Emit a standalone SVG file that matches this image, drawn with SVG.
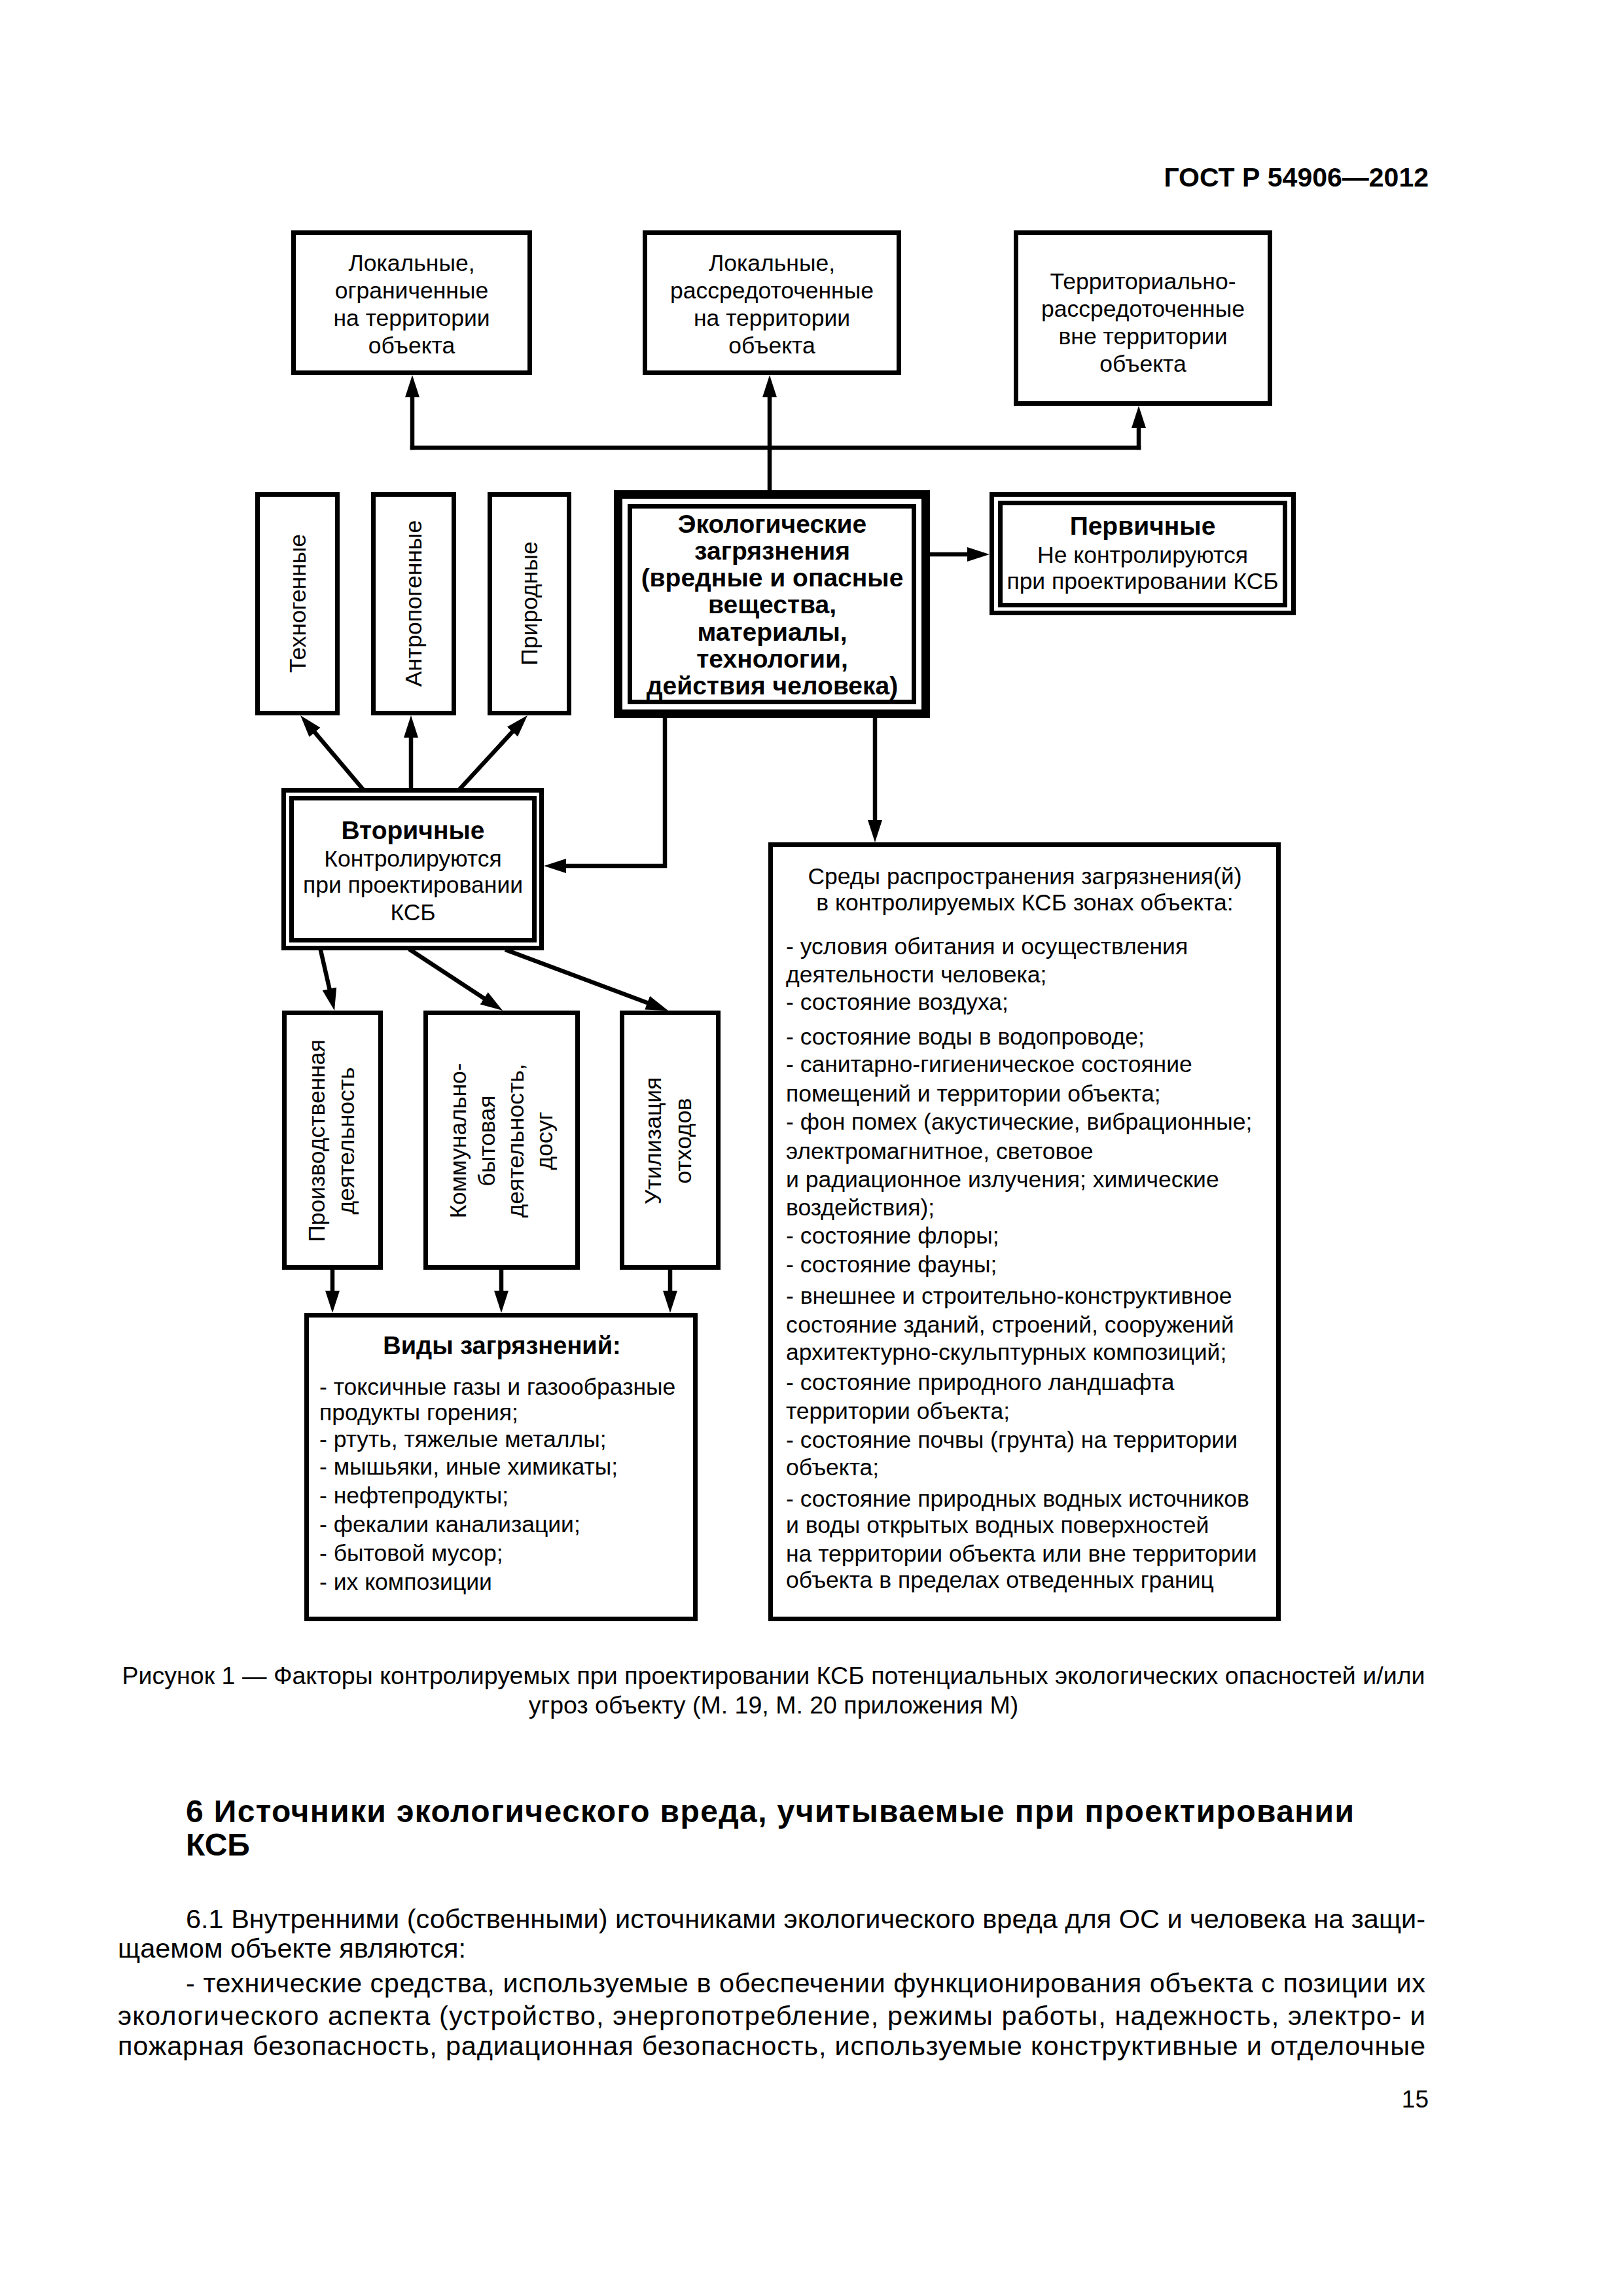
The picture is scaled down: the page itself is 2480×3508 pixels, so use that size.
<svg xmlns="http://www.w3.org/2000/svg" width="2480" height="3508" viewBox="0 0 2480 3508">
<defs>
<style>
.bx{fill:#fff;stroke:#000;stroke-width:7}
.bxt{fill:#fff;stroke:#000;stroke-width:13}
.t{font-family:"Liberation Sans",Arial,sans-serif;font-size:35.5px;fill:#000}
.c{text-anchor:middle}
.b{font-weight:bold}
.ttl{font-size:39px}
.ln{fill:none;stroke:#000;stroke-width:6.5;stroke-linecap:square}
.body{font-family:"Liberation Sans",Arial,sans-serif;font-size:41.5px;fill:#000}
.cap{font-family:"Liberation Sans",Arial,sans-serif;font-size:37.5px;fill:#000}
</style>
<marker id="ah" markerUnits="userSpaceOnUse" markerWidth="36" markerHeight="24" viewBox="0 -12 36 24" refX="2" refY="0" orient="auto">
<path d="M0,-11 L34,0 L0,11 z" fill="#000"/>
</marker>
</defs>
<rect width="2480" height="3508" fill="#fff"/>

<text class="t b" x="2183" y="285" text-anchor="end" style="font-size:41px">ГОСТ Р 54906—2012</text>

<g id="connectors">
<path class="ln" d="M1176,749 V605" marker-end="url(#ah)"/>
<path class="ln" d="M630,684 H1740"/>
<path class="ln" d="M630,684 V605" marker-end="url(#ah)"/>
<path class="ln" d="M1740,684 V652" marker-end="url(#ah)"/>
<path class="ln" d="M1421,847 H1480" marker-end="url(#ah)"/>
<path class="ln" d="M1016,1097 V1323 H863" marker-end="url(#ah)"/>
<path class="ln" d="M1337,1097 V1255" marker-end="url(#ah)"/>
<path class="ln" d="M553,1204 L479.7,1117.4" marker-end="url(#ah)"/>
<path class="ln" d="M628,1204 V1125" marker-end="url(#ah)"/>
<path class="ln" d="M704,1204 L784.3,1116.6" marker-end="url(#ah)"/>
<path class="ln" d="M490,1452 L503.9,1512.8" marker-end="url(#ah)"/>
<path class="ln" d="M628,1452 L741.3,1526.4" marker-end="url(#ah)"/>
<path class="ln" d="M775,1452 L991,1532.8" marker-end="url(#ah)"/>
<path class="ln" d="M508,1940 V1974" marker-end="url(#ah)"/>
<path class="ln" d="M766,1940 V1974" marker-end="url(#ah)"/>
<path class="ln" d="M1024,1940 V1974" marker-end="url(#ah)"/>
</g>

<g id="local-limited">
<rect class="bx" x="448.5" y="355.5" width="361" height="214"/>
<text class="t c" x="629" y="414">Локальные,</text>
<text class="t c" x="629" y="456">ограниченные</text>
<text class="t c" x="629" y="498">на территории</text>
<text class="t c" x="629" y="540">объекта</text>
</g>

<g id="local-dispersed">
<rect class="bx" x="985.5" y="355.5" width="388" height="214"/>
<text class="t c" x="1179.5" y="414">Локальные,</text>
<text class="t c" x="1179.5" y="456">рассредоточенные</text>
<text class="t c" x="1179.5" y="498">на территории</text>
<text class="t c" x="1179.5" y="540">объекта</text>
</g>

<g id="territorial">
<rect class="bx" x="1552.5" y="355.5" width="388" height="261"/>
<text class="t c" x="1746.5" y="442">Территориально-</text>
<text class="t c" x="1746.5" y="484">рассредоточенные</text>
<text class="t c" x="1746.5" y="526">вне территории</text>
<text class="t c" x="1746.5" y="568">объекта</text>
</g>

<g id="technogenic">
<rect class="bx" x="393.5" y="755.5" width="122" height="334"/>
<text class="t c" x="467" y="922" transform="rotate(-90 467 922)">Техногенные</text>
</g>

<g id="anthropogenic">
<rect class="bx" x="570.5" y="755.5" width="123" height="334"/>
<text class="t c" x="644" y="922" transform="rotate(-90 644 922)">Антропогенные</text>
</g>

<g id="natural">
<rect class="bx" x="748.5" y="755.5" width="121" height="334"/>
<text class="t c" x="821" y="922" transform="rotate(-90 821 922)">Природные</text>
</g>

<g id="eco">
<rect class="bxt" x="944.5" y="755.5" width="470" height="335"/>
<rect class="bx" x="962.5" y="773.5" width="434" height="299"/>
<text class="t c b ttl" x="1180" y="814">Экологические</text>
<text class="t c b ttl" x="1180" y="855">загрязнения</text>
<text class="t c b ttl" x="1180" y="896">(вредные и опасные</text>
<text class="t c b ttl" x="1180" y="937">вещества,</text>
<text class="t c b ttl" x="1180" y="979">материалы,</text>
<text class="t c b ttl" x="1180" y="1020">технологии,</text>
<text class="t c b ttl" x="1180" y="1061">действия человека)</text>
</g>

<g id="primary">
<rect class="bx" x="1515.5" y="755.5" width="461" height="181"/>
<rect class="bx" x="1528.5" y="768.5" width="435" height="156"/>
<text class="t c b ttl" x="1746" y="817">Первичные</text>
<text class="t c" x="1746" y="860">Не контролируются</text>
<text class="t c" x="1746" y="900">при проектировании КСБ</text>
</g>

<g id="secondary">
<rect class="bx" x="433.5" y="1207.5" width="394" height="241"/>
<rect class="bx" x="445.5" y="1219.5" width="371" height="217"/>
<text class="t c b ttl" x="631" y="1282">Вторичные</text>
<text class="t c" x="631" y="1324">Контролируются</text>
<text class="t c" x="631" y="1364">при проектировании</text>
<text class="t c" x="631" y="1406">КСБ</text>
</g>

<g id="production">
<rect class="bx" x="434.5" y="1547.5" width="147" height="389"/>
<text class="t c" x="496" y="1743" transform="rotate(-90 496 1743)">Производственная</text>
<text class="t c" x="541" y="1743" transform="rotate(-90 541 1743)">деятельность</text>
</g>

<g id="communal">
<rect class="bx" x="650.5" y="1547.5" width="232" height="389"/>
<text class="t c" x="712" y="1743" transform="rotate(-90 712 1743)">Коммунально-</text>
<text class="t c" x="756" y="1743" transform="rotate(-90 756 1743)">бытовая</text>
<text class="t c" x="800" y="1743" transform="rotate(-90 800 1743)">деятельность,</text>
<text class="t c" x="844" y="1743" transform="rotate(-90 844 1743)">досуг</text>
</g>

<g id="waste">
<rect class="bx" x="950.5" y="1547.5" width="147" height="389"/>
<text class="t c" x="1010" y="1743" transform="rotate(-90 1010 1743)">Утилизация</text>
<text class="t c" x="1056" y="1743" transform="rotate(-90 1056 1743)">отходов</text>
</g>

<g id="types">
<rect class="bx" x="468.5" y="2009.5" width="594" height="464"/>
<text class="t c b" x="767" y="2069" style="font-size:38px">Виды загрязнений:</text>
<text class="t" x="488" y="2131">- токсичные газы и газообразные</text>
<text class="t" x="488" y="2170">продукты горения;</text>
<text class="t" x="488" y="2211">- ртуть, тяжелые металлы;</text>
<text class="t" x="488" y="2253">- мышьяки, иные химикаты;</text>
<text class="t" x="488" y="2297">- нефтепродукты;</text>
<text class="t" x="488" y="2341">- фекалии канализации;</text>
<text class="t" x="488" y="2385">- бытовой мусор;</text>
<text class="t" x="488" y="2429">- их композиции</text>
</g>

<g id="media">
<rect class="bx" x="1177.5" y="1290.5" width="776" height="1183"/>
<text class="t c" x="1566" y="1351">Среды распространения загрязнения(й)</text>
<text class="t c" x="1566" y="1391">в контролируемых КСБ зонах объекта:</text>
<text class="t" x="1201" y="1458">- условия обитания и осуществления</text>
<text class="t" x="1201" y="1501">деятельности человека;</text>
<text class="t" x="1201" y="1543">- состояние воздуха;</text>
<text class="t" x="1201" y="1596">- состояние воды в водопроводе;</text>
<text class="t" x="1201" y="1638">- санитарно-гигиеническое состояние</text>
<text class="t" x="1201" y="1683">помещений и территории объекта;</text>
<text class="t" x="1201" y="1726">- фон помех (акустические, вибрационные;</text>
<text class="t" x="1201" y="1771">электромагнитное, световое</text>
<text class="t" x="1201" y="1814">и радиационное излучения; химические</text>
<text class="t" x="1201" y="1857">воздействия);</text>
<text class="t" x="1201" y="1900">- состояние флоры;</text>
<text class="t" x="1201" y="1944">- состояние фауны;</text>
<text class="t" x="1201" y="1992">- внешнее и строительно-конструктивное</text>
<text class="t" x="1201" y="2036">состояние зданий, строений, сооружений</text>
<text class="t" x="1201" y="2078">архитектурно-скульптурных композиций;</text>
<text class="t" x="1201" y="2124">- состояние природного ландшафта</text>
<text class="t" x="1201" y="2168">территории объекта;</text>
<text class="t" x="1201" y="2212">- состояние почвы (грунта) на территории</text>
<text class="t" x="1201" y="2254">объекта;</text>
<text class="t" x="1201" y="2302">- состояние природных водных источников</text>
<text class="t" x="1201" y="2342">и воды открытых водных поверхностей</text>
<text class="t" x="1201" y="2386">на территории объекта или вне территории</text>
<text class="t" x="1201" y="2426">объекта в пределах отведенных границ</text>
</g>

<text class="cap" x="1182" y="2573" text-anchor="middle" textLength="1991" lengthAdjust="spacing">Рисунок 1 — Факторы контролируемых при проектировании КСБ потенциальных экологических опасностей и/или</text>
<text class="cap" x="1182" y="2618" text-anchor="middle">угроз объекту (М. 19, М. 20 приложения М)</text>

<text class="body b" x="284" y="2784" style="font-size:48px" textLength="1785" lengthAdjust="spacing">6  Источники экологического вреда, учитываемые при проектировании</text>
<text class="body b" x="284" y="2835" style="font-size:48px">КСБ</text>

<text class="body" x="284" y="2946" textLength="1894" lengthAdjust="spacing">6.1  Внутренними (собственными) источниками экологического вреда для ОС и человека на защи-</text>
<text class="body" x="180" y="2991">щаемом объекте являются:</text>
<text class="body" x="284" y="3044" textLength="1894" lengthAdjust="spacing">-  технические средства, используемые в обеспечении функционирования объекта с позиции их</text>
<text class="body" x="180" y="3094" textLength="1998" lengthAdjust="spacing">экологического аспекта (устройство, энергопотребление, режимы работы, надежность, электро- и</text>
<text class="body" x="180" y="3140" textLength="1998" lengthAdjust="spacing">пожарная безопасность, радиационная безопасность, используемые конструктивные и отделочные</text>

<text class="body" x="2183" y="3220" text-anchor="end" style="font-size:37px">15</text>
</svg>
